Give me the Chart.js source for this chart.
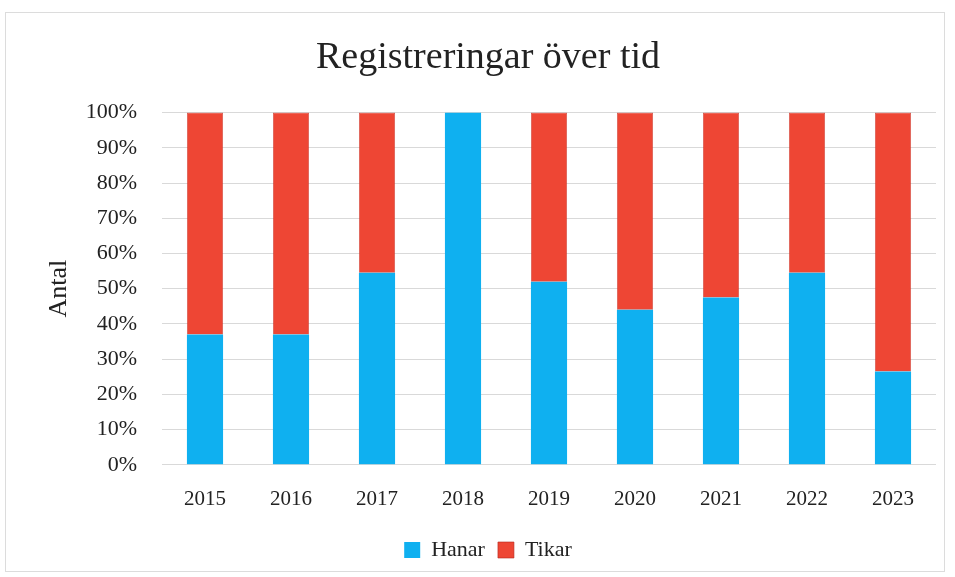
<!DOCTYPE html>
<html lang="sv">
<head>
  <meta charset="UTF-8">
  <title>Registreringar över tid</title>
  <script src="https://cdn.jsdelivr.net/npm/chart.js"></script>
  <style>
    html, body { margin: 0; padding: 0; background: #fff; }
    .wrap {
      position: absolute;
      left: 5px; top: 12px;
      width: 940px; height: 560px;
      border: 1px solid #dcdcdc;
      box-sizing: border-box;
    }
  </style>
</head>
<body>
  <div class="wrap"><canvas id="regChart"></canvas></div>
  <script>
    // år och andel (%) per kön
    const years = ['2015', '2016', '2017', '2018', '2019', '2020', '2021', '2022', '2023'];
    const hanar = [37, 37, 54.5, 100, 52, 44, 47.5, 54.5, 26.5];
    const tikar = [63, 63, 45.5, 0, 48, 56, 52.5, 45.5, 73.5];

    const serif = "'Liberation Serif', 'DejaVu Serif', serif";
    Chart.defaults.font.family = serif;
    Chart.defaults.color = '#222';

    const ctx = document.getElementById('regChart').getContext('2d');
    new Chart(ctx, {
      type: 'bar',
      data: {
        labels: years,
        datasets: [{
          label: 'Hanar',
          data: hanar,
          backgroundColor: '#0fb0f0',
          borderWidth: 0,
          barPercentage: 0.42,
          categoryPercentage: 1
        }, {
          label: 'Tikar',
          data: tikar,
          backgroundColor: '#ee4634',
          borderColor: '#b3261c',
          borderWidth: 0.6,
          barPercentage: 0.42,
          categoryPercentage: 1
        }]
      },
      options: {
        responsive: true,
        maintainAspectRatio: false,
        animation: false,
        layout: { padding: { left: 34, right: 8, top: 10, bottom: 0 } },
        plugins: {
          title: {
            display: true,
            text: 'Registreringar över tid',
            font: { size: 38, weight: 'normal' },
            padding: { top: 12, bottom: 32 }
          },
          legend: {
            position: 'bottom',
            labels: {
              font: { size: 22 },
              boxWidth: 16,
              boxHeight: 16,
              padding: 13
            }
          },
          tooltip: { enabled: false }
        },
        scales: {
          x: {
            stacked: true,
            grid: { display: false },
            border: { display: false },
            ticks: { font: { size: 21 }, padding: 14 }
          },
          y: {
            stacked: true,
            min: 0,
            max: 100,
            afterFit: axis => { axis.width = 122; },
            ticks: {
              stepSize: 10,
              font: { size: 22 },
              padding: 25,
              callback: v => v + '%'
            },
            grid: { color: '#d9d9d9', drawTicks: false },
            border: { display: false },
            title: {
              display: true,
              text: 'Antal',
              font: { size: 26 },
              padding: { top: 4, bottom: 4 }
            }
          }
        }
      }
    });
  </script>
</body>
</html>
